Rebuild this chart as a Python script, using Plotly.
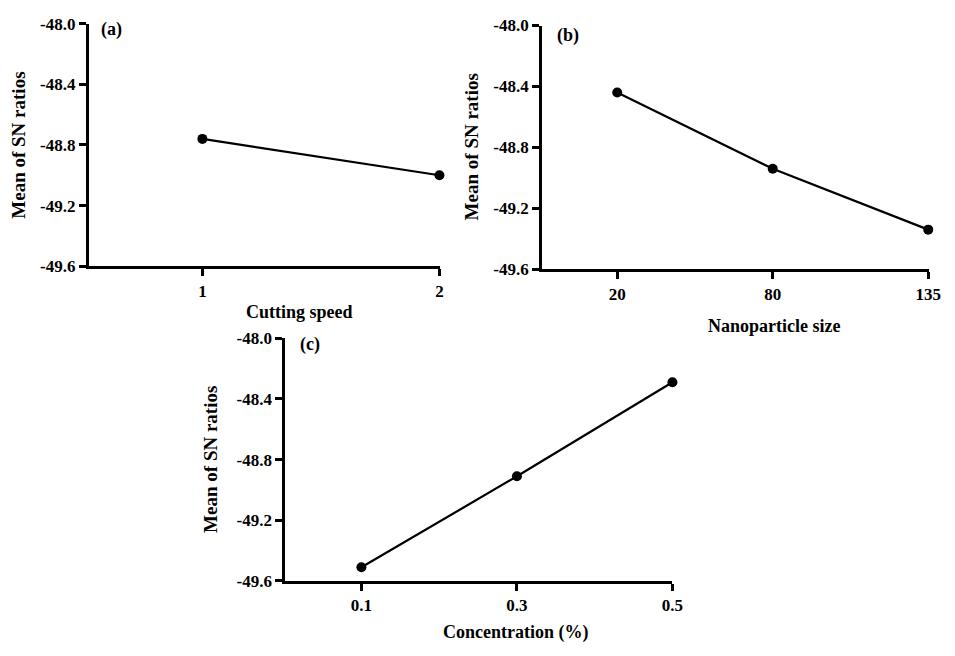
import plotly.graph_objects as go

# ---- data ----
speed_levels = ["1", "2"]
speed_sn = [-48.76, -49.00]

size_levels = ["20", "80", "135"]
size_sn = [-48.44, -48.94, -49.34]

conc_levels = ["0.1", "0.3", "0.5"]
conc_sn = [-49.51, -48.91, -48.29]

y_ticks = [-49.6, -49.2, -48.8, -48.4, -48.0]
y_ticktext = ["-49.6", "-49.2", "-48.8", "-48.4", "-48.0"]

W, H = 955, 656
FONT = "Liberation Serif"

def px_x(p):
    return p / W

def px_y(p):
    return 1 - p / H

fig = go.Figure()

panels = [
    ("a", speed_levels, speed_sn, (90, 446), (15, 265), [-0.479, 1.004], "Cutting speed", (303, 312), (113, 21), 19),
    ("b", size_levels, size_sn, (549, 941), (17, 268), [-0.483, 2.006], "Nanoparticle size", (784, 326), (575, 27), 477),
    ("c", conc_levels, conc_sn, (289, 681), (339, 589), [-0.489, 2.0], "Concentration (%)", (522, 642), (314, 346), 213),
]

for i, (lab, cats, vals, xd, yd, xr, xtitle, xtp, lp, ytx) in enumerate(panels):
    n = "" if i == 0 else str(i + 1)
    fig.add_trace(go.Scatter(
        x=cats, y=vals, mode="lines+markers",
        line=dict(color="black", width=2.2),
        marker=dict(color="black", size=10),
        cliponaxis=False, showlegend=False,
        xaxis="x" + n, yaxis="y" + n,
    ))
    axis_common = dict(
        showline=True, linecolor="black", linewidth=3,
        ticks="outside", ticklen=7, tickwidth=2.5, tickcolor="black",
        showgrid=False, zeroline=False,
        tickfont=dict(family=FONT, size=17, color="black", weight="bold"),
    )
    fig.update_layout(**{
        "xaxis" + n: dict(
            axis_common, type="category", range=xr,
            domain=[px_x(xd[0]), px_x(xd[1])],
            anchor="y" + n,
        ),
        "yaxis" + n: dict(
            axis_common, range=[-49.6, -48.0],
            tickvals=y_ticks, ticktext=y_ticktext,
            domain=[px_y(yd[1]), px_y(yd[0])],
            anchor="x" + n,
        ),
    })
    fig.add_annotation(
        x=px_x(xtp[0]), y=px_y(xtp[1]), xref="paper", yref="paper",
        text="<b>%s</b>" % xtitle, showarrow=False,
        xanchor="center", yanchor="middle",
        font=dict(family=FONT, size=18, color="black"),
    )
    fig.add_annotation(
        x=px_x(ytx), y=px_y((yd[0] + yd[1]) / 2), xref="paper", yref="paper",
        text="<b>Mean of SN ratios</b>", showarrow=False, textangle=-90,
        xanchor="center", yanchor="middle",
        font=dict(family=FONT, size=19, color="black"),
    )
    fig.add_annotation(
        x=px_x(lp[0]), y=px_y(lp[1]), xref="paper", yref="paper",
        text="<b>(%s)</b>" % lab, showarrow=False,
        xanchor="center", yanchor="middle",
        font=dict(family=FONT, size=18, color="black"),
    )

fig.update_layout(
    width=W, height=H,
    margin=dict(l=0, r=0, t=0, b=0),
    paper_bgcolor="white", plot_bgcolor="white",
)

fig.write_html("out.html")
